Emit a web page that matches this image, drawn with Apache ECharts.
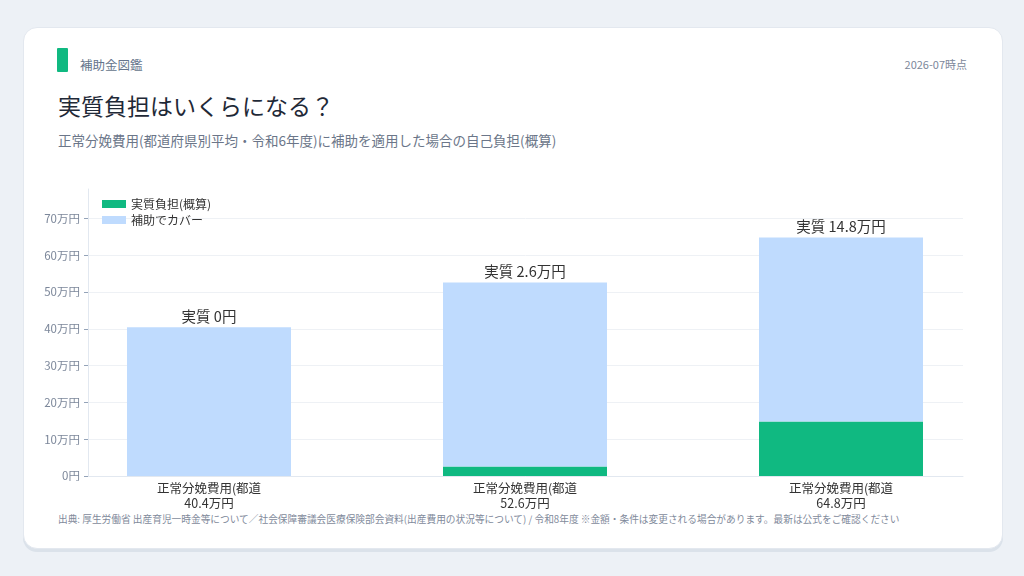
<!DOCTYPE html>
<html lang="ja">
<head>
<meta charset="UTF-8">
<title>実質負担はいくらになる？</title>
<style>
  html, body { margin: 0; padding: 0; width: 1024px; height: 576px; background: #edf1f6; overflow: hidden; }
  body { font-family: "Noto Sans CJK JP", "Noto Sans", sans-serif; position: relative; }
  .card { position: absolute; left: 23px; top: 27px; width: 978px; height: 520px; background: #fff;
          border-radius: 14px; border: 1px solid #e3e8ef; box-shadow: 0 3px 0 #dbe2ea; }
  .accent { position: absolute; left: 57px; top: 48px; width: 11px; height: 24px; background: #10b981; border-radius: 1px; }
  .brand { position: absolute; left: 80px; top: 55px; font-size: 12.5px; color: #64748b; }
  .date { position: absolute; right: 57px; top: 56px; font-size: 11px; color: #7c879a; }
  .title { position: absolute; left: 58px; top: 88px; font-size: 23px; color: #1f2937; }
  .sub { position: absolute; left: 58px; top: 130px; font-size: 13.5px; color: #6b7689; }
  .src { position: absolute; left: 58px; top: 512px; font-size: 9.7px; color: #7f8a9b; white-space: nowrap; }
  #main { position: absolute; left: 0; top: 0; width: 1024px; height: 576px; }
</style>
</head>
<body>
<div class="card"></div>
<div class="accent"></div>
<div class="brand">補助金図鑑</div>
<div class="date">2026-07時点</div>
<div class="title">実質負担はいくらになる？</div>
<div class="sub">正常分娩費用(都道府県別平均・令和6年度)に補助を適用した場合の自己負担(概算)</div>
<div class="src">出典: 厚生労働省 出産育児一時金等について／社会保障審議会医療保険部会資料(出産費用の状況等について) / 令和8年度 ※金額・条件は変更される場合があります。最新は公式をご確認ください</div>
<div id="main"></div>

<script src="https://cdn.jsdelivr.net/npm/echarts@6/dist/echarts.min.js"></script>
<script>
    // 単位: 万円
    var categories = ['正常分娩費用(都道', '正常分娩費用(都道', '正常分娩費用(都道'];
    var totals = [40.4, 52.6, 64.8];
    var burden = [0, 2.6, 14.8];
    var covered = [40.4, 50.0, 50.0];
    var yTicks = [0, 10, 20, 30, 40, 50, 60, 70];

    var myChart = echarts.init(document.getElementById('main'), null, { renderer: 'canvas' });

    var fontFamily = '"Noto Sans CJK JP", "Noto Sans", sans-serif';

    var option = {
        animation: false,
        textStyle: { fontFamily: fontFamily },
        legend: {
            orient: 'vertical',
            left: 97,
            top: 193,
            itemWidth: 24,
            itemHeight: 8,
            itemGap: 4,
            icon: 'rect',
            textStyle: { fontSize: 12, color: '#333' },
            data: ['実質負担(概算)', '補助でカバー']
        },
        grid: [
            { left: 88, right: 61, top: 189, bottom: 100 },
            { left: 51, right: 25, top: 189, bottom: 100 }
        ],
        xAxis: [
            {
                type: 'category',
                gridIndex: 0,
                data: categories,
                axisLine: { lineStyle: { color: '#e2e8f0' } },
                axisTick: { show: false },
                axisLabel: { show: false }
            },
            {
                type: 'category',
                gridIndex: 1,
                data: categories,
                axisLine: { show: false },
                axisTick: { alignWithLabel: true, lineStyle: { color: '#94a3b8' }, length: 4 },
                axisLabel: {
                    fontSize: 12.5,
                    color: '#333',
                    lineHeight: 15,
                    margin: 5,
                    formatter: function (v, i) { return v + '\n' + totals[i] + '万円'; }
                }
            }
        ],
        yAxis: [
            {
                type: 'value',
                gridIndex: 0,
                min: 0,
                max: 78,
                interval: 10,
                axisLine: { show: true, lineStyle: { color: '#e2e8f0' } },
                axisTick: { show: true, length: 4, lineStyle: { color: '#94a3b8' } },
                splitLine: { showMaxLine: false, lineStyle: { color: '#eef1f5' } },
                axisLabel: {
                    fontSize: 11.5,
                    color: '#7c879a',
                    showMaxLabel: false,
                    formatter: function (v) {
                        if (yTicks.indexOf(v) < 0) return '';
                        return v === 0 ? '0円' : v + '万円';
                    }
                }
            },
            {
                type: 'value',
                gridIndex: 1,
                min: 0,
                max: 78,
                interval: 10,
                show: false,
                splitLine: { show: false }
            }
        ],
        series: [
            {
                name: '実質負担(概算)',
                type: 'bar',
                stack: 'cost',
                xAxisIndex: 1,
                yAxisIndex: 1,
                barWidth: 164,
                itemStyle: { color: '#10b981' },
                data: burden
            },
            {
                name: '補助でカバー',
                type: 'bar',
                stack: 'cost',
                xAxisIndex: 1,
                yAxisIndex: 1,
                barWidth: 164,
                itemStyle: { color: '#bfdbfe' },
                label: {
                    show: true,
                    position: 'top',
                    distance: 4,
                    fontSize: 14.5,
                    color: '#333',
                    formatter: function (p) {
                        var b = burden[p.dataIndex];
                        return '実質 ' + (b === 0 ? '0円' : b + '万円');
                    }
                },
                data: covered
            }
        ]
    };
    myChart.setOption(option);
</script>
</body>
</html>
